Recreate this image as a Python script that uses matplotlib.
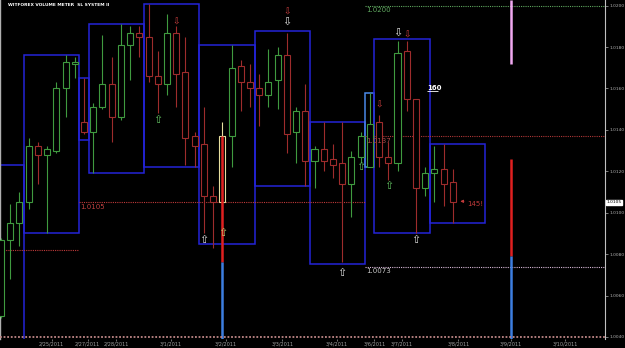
import matplotlib
matplotlib.use("Agg")
import matplotlib.pyplot as plt
from matplotlib.patches import Rectangle

# ---------------- data (4H candles, EURUSD-like price) ----------------
opens = [1.0050, 1.0087, 1.0095, 1.0105, 1.0132, 1.0128, 1.0130, 1.0160, 1.0172, 1.0144,
         1.0139, 1.0151, 1.0162, 1.0146, 1.0181, 1.0187, 1.0185, 1.0166, 1.0162, 1.0187,
         1.0168, 1.0137, 1.0133, 1.0108, 1.0105, 1.0137, 1.0171, 1.0163, 1.0160, 1.0157,
         1.0164, 1.0176, 1.0139, 1.0149, 1.0125, 1.0131, 1.0126, 1.0124, 1.0114, 1.0127,
         1.0122, 1.0144, 1.0127, 1.0124, 1.0178, 1.0155, 1.0112, 1.0119, 1.0121, 1.0115]
highs = [1.0088, 1.0104, 1.0110, 1.0136, 1.0134, 1.0132, 1.0163, 1.0176, 1.0175, 1.0165,
         1.0153, 1.0186, 1.0175, 1.0191, 1.0190, 1.0190, 1.0201, 1.0178, 1.0196, 1.0190,
         1.0185, 1.0139, 1.0151, 1.0113, 1.0144, 1.0181, 1.0174, 1.0172, 1.0167, 1.0179,
         1.0180, 1.0187, 1.0151, 1.0162, 1.0132, 1.0144, 1.0133, 1.0144, 1.0130, 1.0139,
         1.0158, 1.0147, 1.0134, 1.0183, 1.0183, 1.0155, 1.0122, 1.0132, 1.0133, 1.0121]
lows = [1.0049, 1.0068, 1.0084, 1.0102, 1.0114, 1.0090, 1.0129, 1.0146, 1.0165, 1.0138,
        1.0119, 1.0150, 1.0134, 1.0145, 1.0164, 1.0175, 1.0163, 1.0148, 1.0157, 1.0151,
        1.0123, 1.0122, 1.0090, 1.0083, 1.0104, 1.0122, 1.0149, 1.0151, 1.0142, 1.0151,
        1.0150, 1.0129, 1.0124, 1.0113, 1.0112, 1.0120, 1.0117, 1.0076, 1.0098, 1.0124,
        1.0122, 1.0122, 1.0116, 1.0120, 1.0149, 1.0090, 1.0108, 1.0105, 1.0103, 1.0095]
closes = [1.0087, 1.0095, 1.0105, 1.0132, 1.0128, 1.0131, 1.0160, 1.0173, 1.0173, 1.0139,
          1.0151, 1.0162, 1.0146, 1.0181, 1.0187, 1.0185, 1.0166, 1.0162, 1.0187, 1.0167,
          1.0136, 1.0132, 1.0108, 1.0105, 1.0137, 1.0170, 1.0163, 1.0160, 1.0157, 1.0163,
          1.0176, 1.0138, 1.0149, 1.0125, 1.0131, 1.0125, 1.0123, 1.0114, 1.0127, 1.0137,
          1.0143, 1.0127, 1.0124, 1.0177, 1.0155, 1.0112, 1.0119, 1.0121, 1.0114, 1.0105]
highlight_bar = 24

# session boxes: first and last candle of each group, high / low
box_first = [-1, 3, 9, 10, 16, 22, 28, 34, 40, 41, 47]
box_last = [2, 8, 9, 15, 21, 27, 33, 39, 40, 46, 52]
box_top = [1.0123, 1.0176, 1.0165, 1.0191, 1.0201, 1.0181, 1.0188, 1.0144, 1.0158, 1.0184, 1.0133]
box_bottom = [1.0030, 1.0090, 1.0135, 1.0119, 1.0122, 1.0085, 1.0113, 1.0075, 1.0122, 1.0090, 1.0095]

# horizontal levels
level_price = [1.0200, 1.0137, 1.0105, 1.0082, 1.0074]
level_label = ["1.0200", "1.0137", "1.0105", "", "1.0073"]
level_first = [40, 40, 9, -1, 40]
level_last = [66, 66, 39, 8, 66]
level_color = ["#5fa85f", "#b03838", "#c03a3a", "#c03a3a", "#d8b8d8"]
level_text_color = ["#5fa85f", "#a84848", "#c04040", "#c04040", "#c8c8c8"]

# signal arrows
up_x = [22, 24, 37, 45]
up_y = [1.0087, 1.0090, 1.0071, 1.0087]
green_up_x = [17, 39, 42]
green_up_y = [1.0145, 1.0122, 1.0113]
down_x = [31, 43]
down_y = [1.0192, 1.0187]
red_x = [19, 31, 44, 41]
red_y = [1.0192, 1.0197, 1.0186, 1.0152]

# current bar vertical line
now_bar = 55.3
now_pink_to = 1.0172
now_red = (1.0126, 1.0079)
hl_red = (1.0137, 1.0076)

date_pos = [5.5, 9.4, 12.5, 18.4, 24.4, 30.5, 36.4, 40.5, 43.5, 49.6, 55.3, 61.2]
date_labels = ['2/25/2011', '2/27/2011', '2/28/2011', '3/1/2011', '3/2/2011', '3/3/2011',
               '3/4/2011', '3/6/2011', '3/7/2011', '3/8/2011', '3/9/2011', '3/10/2011']
price_ticks = [1.0040, 1.0060, 1.0080, 1.0100, 1.0120, 1.0140, 1.0160, 1.0180, 1.0200]
bid_price = 1.0105

# ---------------- figure ----------------
GREEN = "#3f9a3f"
RED = "#9e2c2c"
BLUE = "#2424d8"
LBLUE = "#4a8ae8"

fig = plt.figure(figsize=(6.25, 3.48), dpi=100, facecolor="black")
ax = fig.add_axes([0, 9 / 348, 605 / 625, 339 / 348], facecolor="black")
ymax, ymin = 1.020275, 1.003899
ax.set_xlim(-0.11, 65.5)
ax.set_ylim(ymin, ymax)

# boxes
for k, (f, l, t, b) in enumerate(zip(box_first, box_last, box_top, box_bottom)):
    col = LBLUE if k == 8 else BLUE
    ax.add_patch(Rectangle((f - 0.5, b), l - f + 1, t - b, fill=False, ec=col, lw=1.1, zorder=2))

# levels
for p, lab, f, l, c, tc in zip(level_price, level_label, level_first, level_last, level_color, level_text_color):
    ax.hlines(p, f - 0.5, l + 0.5, colors=c, linestyles=(0, (1, 1)), lw=0.8, zorder=2)
    if lab:
        ax.text(f - 0.4, p - 0.00008, lab, color=tc, fontsize=5, va="top", ha="left", zorder=6)

# highlight vertical line at signal bar
ax.vlines(highlight_bar, hl_red[1], hl_red[0], colors="#e02020", lw=1.8, zorder=5)
ax.vlines(highlight_bar, ymin, hl_red[1], colors="#3d7ee0", lw=1.8, zorder=5)

# current bar line
ax.vlines(now_bar, now_pink_to, ymax, colors="#f0a8f0", lw=1.8, zorder=5)
ax.vlines(now_bar, now_red[1], now_red[0], colors="#e02020", lw=1.8, zorder=5)
ax.vlines(now_bar, ymin, now_red[1], colors="#3d7ee0", lw=1.8, zorder=5)

# candles
for i, (o, h, l, c) in enumerate(zip(opens, highs, lows, closes)):
    col = GREEN if c >= o else RED
    if i == highlight_bar:
        col = "#e8e0a0"
    ax.vlines(i, l, h, colors=col, lw=0.8, zorder=3)
    ax.add_patch(Rectangle((i - 0.33, min(o, c)), 0.66, max(abs(c - o), 0.00003),
                           fc="black" if i != highlight_bar else "none", ec=col, lw=0.8, zorder=4))

# arrows
for x, y in zip(up_x, up_y):
    col = "#c8c870" if x == highlight_bar else "#e0e0e0"
    ax.text(x, y, "\u21e7", color=col, fontsize=8, ha="center", va="center", zorder=7)
for x, y in zip(green_up_x, green_up_y):
    ax.text(x, y, "\u21e7", color="#60c060", fontsize=8, ha="center", va="center", zorder=7)
for x, y in zip(down_x, down_y):
    ax.text(x, y, "\u21e9", color="#e0e0e0", fontsize=8, ha="center", va="center", zorder=7)
for x, y in zip(red_x, red_y):
    ax.text(x, y, "\u21e9", color="#d04040", fontsize=6.5, ha="center", va="center", zorder=7)

# labels
ax.text(46.2, 1.0160, "160", color="white", fontsize=5, fontweight="bold", ha="left", va="center", zorder=7)
ax.hlines(1.0160 - 0.00012, 46.2, 47.4, colors="white", lw=0.6, zorder=7)
ax.text(50.6, 1.0104, "145!", color="#c03a3a", fontsize=5, ha="left", va="center", zorder=7)
ax.annotate("", xy=(49.5, 1.01055), xytext=(50.5, 1.01055),
            arrowprops=dict(arrowstyle="-|>", color="#c03a3a", lw=0.7, mutation_scale=4), zorder=7)

# bottom strip
ax.hlines(1.00398, -0.11, 65.5, colors="#c08888", linestyles=(0, (1, 1)), lw=1.3, zorder=6)

# axes styling
for s in ["top", "bottom"]:
    ax.spines[s].set_visible(False)
ax.spines["left"].set_color("#b0b0b0")
ax.spines["left"].set_linewidth(1.0)
ax.spines["right"].set_color("#c0c0c0")
ax.spines["right"].set_linewidth(0.8)
ax.yaxis.tick_right()
ax.set_yticks(price_ticks)
ax.set_yticklabels([f"{p:.4f}" for p in price_ticks])
ax.tick_params(axis="y", colors="#b0b0b0", labelsize=3.2, length=2, width=0.5, pad=1)
ax.set_xticks(date_pos)
ax.set_xticklabels(date_labels)
ax.tick_params(axis="x", colors="#a0a0a0", labelsize=3.6, length=1.5, width=0.5, pad=0.5)

# bid price marker on right axis
ax.text(1.002, bid_price, f"{bid_price:.4f}", transform=ax.get_yaxis_transform(),
        fontsize=3.2, color="black", ha="left", va="center",
        bbox=dict(boxstyle="square,pad=0.15", fc="white", ec="white"), zorder=8, clip_on=False)

fig.text(8 / 625, 1 - 5 / 348, "WITFOREX VOLUME METER  SL SYSTEM II", color="white",
         fontsize=3.2, fontweight="bold", ha="left", va="center")

fig.savefig("out.png", dpi=100, facecolor="black")
